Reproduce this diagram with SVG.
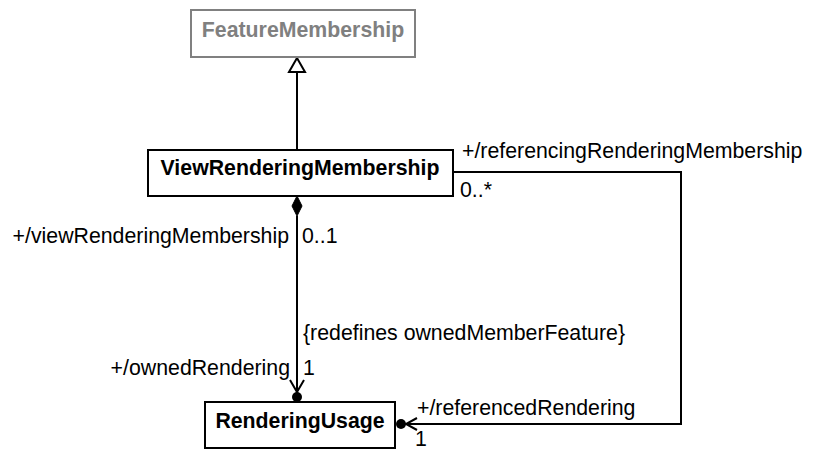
<svg xmlns="http://www.w3.org/2000/svg" width="815" height="450" viewBox="0 0 815 450">
<style>
.box{fill:#fff;stroke:#000;stroke-width:2}
.gbox{fill:#fff;stroke:#808080;stroke-width:2}
.name{font-family:"Liberation Sans",Arial,sans-serif;font-weight:bold;font-size:21.3px;text-anchor:middle;fill:#000}
.gname{fill:#808080}
.lbl{font-family:"Liberation Sans",Arial,sans-serif;font-size:21.3px;fill:#000}
.ln{fill:none;stroke:#000;stroke-width:2}
</style>
<rect width="815" height="450" fill="#fff"/>
<g id="connectors">
  <line class="ln" x1="297" y1="72" x2="297" y2="150"/>
  <polygon points="297,58 289,72 305,72" fill="#fff" stroke="#000" stroke-width="2"/>
  <line class="ln" x1="297" y1="216" x2="297" y2="392"/>
  <polygon points="297,196 292,206 297,216 302,206" fill="#000" stroke="#000" stroke-width="1"/>
  <polyline class="ln" points="290,380 297,392 304,380"/>
  <circle cx="297" cy="397" r="5" fill="#000"/>
  <polyline class="ln" points="453,172 681,172 681,424 406,424"/>
  <polyline class="ln" points="417,418 406,424 417,430"/>
  <circle cx="401" cy="424" r="5" fill="#000"/>
  <text class="lbl" x="462" y="158">+/referencingRenderingMembership</text>
  <text class="lbl" x="460" y="197">0..*</text>
  <text class="lbl" x="289" y="243" text-anchor="end">+/viewRenderingMembership</text>
  <text class="lbl" x="302" y="243">0..1</text>
  <text class="lbl" x="303" y="340">{redefines ownedMemberFeature}</text>
  <text class="lbl" x="290" y="375" text-anchor="end">+/ownedRendering</text>
  <text class="lbl" x="303" y="375">1</text>
  <text class="lbl" x="417" y="415">+/referencedRendering</text>
  <text class="lbl" x="415" y="446">1</text>
</g>
<g id="FeatureMembership">
  <rect class="gbox" x="191" y="10" width="224" height="47"/>
  <text class="name gname" x="303" y="37">FeatureMembership</text>
</g>
<g id="ViewRenderingMembership">
  <rect class="box" x="148" y="150" width="305" height="46"/>
  <text class="name" x="300" y="175">ViewRenderingMembership</text>
</g>
<g id="RenderingUsage">
  <rect class="box" x="205" y="402" width="190" height="46"/>
  <text class="name" x="300" y="428">RenderingUsage</text>
</g>
</svg>
